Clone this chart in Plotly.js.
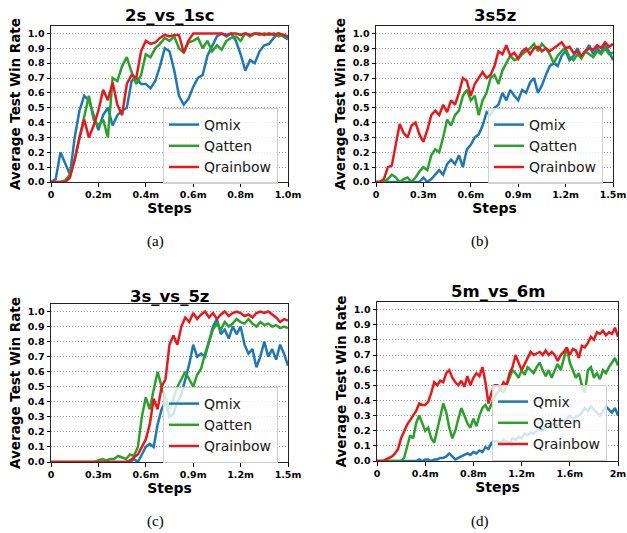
<!DOCTYPE html>
<html>
<head>
<meta charset="utf-8">
<script src="https://cdn.plot.ly/plotly-3.0.1.min.js"></script>
<style>html,body{margin:0;padding:0;background:#fff}#chart{width:627px;height:533px}</style>
</head>
<body>
<div id="chart"></div>
<script>
// ---------------- data ----------------
const panelTitles = ["2s_vs_1sc", "3s5z", "3s_vs_5z", "5m_vs_6m"];
const captions = ["(a)", "(b)", "(c)", "(d)"];
const seriesNames = ["Qmix", "Qatten", "Qrainbow"];
const yTickVals = [0, 0.1, 0.2, 0.3, 0.4, 0.5, 0.6, 0.7, 0.8, 0.9, 1.0];
const yTickText = ["0.0", "0.1", "0.2", "0.3", "0.4", "0.5", "0.6", "0.7", "0.8", "0.9", "1.0"];
const xTickValsA = [0, 0.2, 0.4, 0.6, 0.8, 1.0];
const xTickTextA = ["0", "0.2m", "0.4m", "0.6m", "0.8m", "1.0m"];
const xTickValsB = [0, 0.3, 0.6, 0.9, 1.2, 1.5];
const xTickTextB = ["0", "0.3m", "0.6m", "0.9m", "1.2m", "1.5m"];
const xTickValsC = [0, 0.3, 0.6, 0.9, 1.2, 1.5];
const xTickTextC = ["0", "0.3m", "0.6m", "0.9m", "1.2m", "1.5m"];
const xTickValsD = [0, 0.4, 0.8, 1.2, 1.6, 2.0];
const xTickTextD = ["0", "0.4m", "0.8m", "1.2m", "1.6m", "2m"];

// (a) 2s_vs_1sc, steps every 0.02m
const qmixA = [0,0.02,0.2,0.12,0.05,0.3,0.48,0.58,0.55,0.45,0.35,0.45,0.5,0.38,0.45,0.48,0.5,0.68,0.7,0.66,
  0.66,0.63,0.68,0.78,0.9,0.88,0.75,0.58,0.52,0.56,0.64,0.7,0.72,0.85,0.92,0.98,1.0,0.98,1.0,0.95,
  0.86,0.75,0.82,0.8,0.88,0.92,0.93,0.97,1.0,0.98,0.96];
const qattenA = [0,0,0,0.01,0.05,0.15,0.3,0.45,0.58,0.42,0.38,0.42,0.3,0.7,0.68,0.78,0.84,0.74,0.66,0.72,
  0.86,0.84,0.9,0.93,0.97,0.95,0.98,0.9,0.87,0.94,0.95,0.97,0.9,0.95,0.88,0.92,0.89,0.95,0.97,0.98,
  0.95,1.0,0.98,1.0,0.99,1.0,0.99,1.0,0.98,0.99,0.97];
const qrainbowA = [0,0,0,0,0.03,0.15,0.3,0.42,0.3,0.38,0.48,0.62,0.55,0.67,0.52,0.45,0.66,0.72,0.7,0.88,
  0.95,0.93,0.94,0.97,0.99,0.98,0.99,0.99,0.87,0.95,1.0,1.0,1.0,1.0,1.0,1.0,1.0,0.99,1.0,1.0,
  0.99,1.0,0.99,1.0,1.0,0.99,1.0,0.99,1.0,0.99,0.98];

// (b) 3s5z, steps every 0.025m
const qmixB = [0,0,0,0,0,0,0,0,0,0,0,0,0.03,0,0.02,0.05,0.08,0.05,0.12,0.15,
  0.12,0.18,0.1,0.22,0.25,0.3,0.32,0.38,0.47,0.45,0.5,0.52,0.6,0.55,0.62,0.58,0.55,0.62,0.6,0.67,
  0.7,0.6,0.65,0.72,0.78,0.8,0.78,0.85,0.88,0.82,0.85,0.9,0.84,0.88,0.92,0.86,0.9,0.87,0.92,0.88,0.82];
const qattenB = [0,0,0,0.02,0.05,0.03,0,0.02,0.03,0,0.03,0.07,0.1,0.08,0.18,0.22,0.2,0.3,0.42,0.38,
  0.45,0.48,0.58,0.62,0.55,0.58,0.45,0.55,0.6,0.7,0.72,0.66,0.75,0.8,0.85,0.82,0.83,0.86,0.88,0.9,
  0.93,0.88,0.93,0.9,0.86,0.8,0.85,0.88,0.9,0.84,0.82,0.86,0.83,0.88,0.86,0.84,0.88,0.86,0.9,0.86,0.87];
const qrainbowB = [0,0,0.02,0.1,0.11,0.25,0.39,0.33,0.3,0.38,0.4,0.32,0.27,0.35,0.45,0.48,0.45,0.52,0.47,0.55,
  0.52,0.6,0.7,0.68,0.58,0.66,0.7,0.74,0.7,0.72,0.78,0.88,0.86,0.92,0.85,0.87,0.83,0.88,0.9,0.86,
  0.9,0.91,0.88,0.9,0.88,0.9,0.92,0.94,0.9,0.91,0.87,0.88,0.85,0.88,0.9,0.89,0.92,0.9,0.94,0.91,0.93];

// (c) 3s_vs_5z, steps every 0.025m
const qmixC = [0,0,0,0,0,0,0,0,0,0,0,0,0,0,0,0,0,0,0,0,
  0,0.02,0,0.05,0.1,0.12,0.1,0.25,0.35,0.4,0.3,0.32,0.4,0.45,0.55,0.65,0.78,0.7,0.72,0.7,
  0.8,0.9,0.95,0.85,0.88,0.82,0.9,0.85,0.9,0.78,0.72,0.75,0.63,0.7,0.8,0.7,0.75,0.68,0.78,0.72,0.64];
const qattenC = [0,0,0,0,0,0,0,0,0,0,0,0,0.01,0.02,0.01,0.02,0.02,0.04,0.03,0.02,
  0.05,0.04,0.1,0.3,0.43,0.35,0.48,0.6,0.5,0.42,0.35,0.42,0.5,0.55,0.6,0.55,0.5,0.58,0.62,0.72,
  0.8,0.88,0.92,0.88,0.93,0.9,0.92,0.95,0.93,0.92,0.95,0.92,0.9,0.93,0.91,0.92,0.9,0.91,0.89,0.9,0.89];
const qrainbowC = [0,0,0,0,0,0,0,0,0,0,0,0,0,0,0,0,0,0,0,0,
  0.01,0.03,0.05,0.1,0.15,0.25,0.42,0.35,0.5,0.55,0.78,0.84,0.78,0.9,0.96,0.93,0.99,0.95,0.98,1.0,
  0.96,0.99,0.95,0.98,1.0,0.97,0.99,1.0,0.99,0.97,0.98,0.96,0.99,1.0,0.99,1.0,0.98,0.96,0.93,0.95,0.94];

// (d) 5m_vs_6m, steps every 0.025m
const qmixD = [0,0,0,0,0,0,0,0,0,0,0,0,0,0,0.01,0,0.01,0.01,0,0.01,
  0.01,0.02,0.02,0.03,0.05,0.03,0.01,0.02,0.03,0.04,0.05,0.04,0.06,0.05,0.07,0.06,0.09,0.08,0.12,0.13,0.13,
  0.12,0.14,0.13,0.12,0.15,0.14,0.16,0.15,0.18,0.17,0.19,0.18,0.2,0.21,0.2,0.23,0.22,0.25,0.24,0.23,
  0.27,0.26,0.28,0.3,0.28,0.29,0.3,0.32,0.35,0.33,0.36,0.34,0.32,0.3,0.33,0.36,0.34,0.32,0.35,0.3];
const qattenD = [0,0,0,0,0,0,0,0,0,0.02,0.1,0.17,0.15,0.25,0.3,0.25,0.2,0.22,0.15,0.12,
  0.2,0.3,0.38,0.32,0.22,0.15,0.2,0.28,0.35,0.3,0.25,0.22,0.28,0.23,0.3,0.35,0.37,0.33,0.38,0.42,0.45,
  0.48,0.45,0.5,0.55,0.6,0.58,0.55,0.6,0.57,0.62,0.6,0.58,0.62,0.65,0.6,0.56,0.6,0.55,0.6,0.64,
  0.6,0.68,0.75,0.65,0.6,0.55,0.58,0.5,0.45,0.6,0.62,0.55,0.58,0.54,0.6,0.58,0.62,0.65,0.68,0.63];
const qrainbowD = [0,0,0,0.01,0.02,0.03,0.05,0.08,0.15,0.2,0.24,0.27,0.3,0.33,0.38,0.37,0.37,0.39,0.45,0.52,
  0.5,0.53,0.52,0.58,0.6,0.55,0.52,0.5,0.53,0.49,0.56,0.5,0.55,0.58,0.56,0.62,0.52,0.38,0.45,0.5,0.5,
  0.48,0.52,0.5,0.58,0.62,0.7,0.65,0.6,0.64,0.68,0.72,0.7,0.71,0.72,0.7,0.73,0.7,0.72,0.7,0.66,
  0.7,0.72,0.75,0.7,0.74,0.73,0.68,0.76,0.75,0.78,0.82,0.8,0.85,0.84,0.86,0.83,0.85,0.84,0.88,0.82];

// ---------------- build ----------------
function stepsGrid(n, dx) { return Array.from({length: n}, (_, i) => +(i * dx).toFixed(4)); }
const colors = ["#1f77b4", "#2ca02c", "#e8191c"];
const panels = [
  {series: [qmixA, qattenA, qrainbowA], dx: 0.02, range: [0, 1.0], tv: xTickValsA, tt: xTickTextA},
  {series: [qmixB, qattenB, qrainbowB], dx: 0.025, range: [0, 1.5], tv: xTickValsB, tt: xTickTextB},
  {series: [qmixC, qattenC, qrainbowC], dx: 0.025, range: [0, 1.5], tv: xTickValsC, tt: xTickTextC},
  {series: [qmixD, qattenD, qrainbowD], dx: 0.025, range: [0, 2.0], tv: xTickValsD, tt: xTickTextD}
];
const W = 627, H = 533;
// plot-area boxes in pixels [left, right, top, bottom]
const boxes = [[51, 288, 26, 182], [376, 613, 26, 182], [51, 288, 304, 462], [377, 618, 302, 461]];
const titleY = [15.5, 15.5, 296, 291.5];
const legendPos = [[163, 108], [488, 108], [163, 387], [492, 385]];
const captionPos = [[155, 241], [480, 241], [155, 521], [480, 521]];

const tickFont = {family: "DejaVu Sans", size: 9.5, weight: 700, color: "#000"};
const data = [];
const layout = {
  width: W, height: H, margin: {l: 0, r: 0, t: 0, b: 0},
  paper_bgcolor: "#fff", plot_bgcolor: "#fff", showlegend: true, annotations: []
};
panels.forEach((p, k) => {
  const sfx = k === 0 ? "" : String(k + 1);
  const b = boxes[k];
  p.series.forEach((ys, j) => {
    data.push({
      type: "scatter", mode: "lines", name: seriesNames[j],
      x: stepsGrid(ys.length, p.dx), y: ys,
      xaxis: "x" + sfx, yaxis: "y" + sfx,
      legend: "legend" + sfx, legendgroup: "g" + k + "_" + j,
      line: {color: colors[j], width: 2.5}
    });
  });
  layout["xaxis" + sfx] = {
    domain: [b[0] / W, b[1] / W], range: p.range, anchor: "y" + sfx,
    tickmode: "array", tickvals: p.tv, ticktext: p.tt,
    ticks: "outside", ticklen: 3.5, tickwidth: 1, tickcolor: "#000",
    showgrid: false, zeroline: false, showline: true, mirror: true, linecolor: "#222", linewidth: 1,
    tickfont: tickFont,
    title: {text: "Steps", font: {family: "DejaVu Sans", size: 14, weight: 700, color: "#000"}, standoff: 2}
  };
  layout["yaxis" + sfx] = {
    domain: [1 - b[3] / H, 1 - b[2] / H], range: [0, 1.05], anchor: "x" + sfx,
    tickmode: "array", tickvals: yTickVals, ticktext: yTickText,
    ticks: "outside", ticklen: 3.5, tickwidth: 1, tickcolor: "#000",
    showgrid: true, gridcolor: "#9a9a9a", griddash: "1px,2px", gridwidth: 1,
    zeroline: false, showline: true, mirror: true, linecolor: "#222", linewidth: 1,
    tickfont: tickFont,
    title: {text: "Average Test Win Rate", font: {family: "DejaVu Sans", size: 13.5, weight: 700, color: "#000"}, standoff: 4}
  };
  layout["legend" + sfx] = {
    x: legendPos[k][0] / W, y: 1 - legendPos[k][1] / H, xanchor: "left", yanchor: "top",
    bgcolor: "rgba(255,255,255,0.8)", bordercolor: "#d0d0d0", borderwidth: 1,
    font: {family: "DejaVu Sans", size: 14, color: "#1a1a1a"},
    tracegroupgap: 3, traceorder: "normal"
  };
  layout.annotations.push({
    text: panelTitles[k], xref: "paper", yref: "paper",
    x: (b[0] + b[1]) / 2 / W, y: 1 - titleY[k] / H, xanchor: "center", yanchor: "middle",
    showarrow: false, font: {family: "DejaVu Sans", size: 16.5, weight: 700, color: "#000"}
  });
  layout.annotations.push({
    text: captions[k], xref: "paper", yref: "paper",
    x: captionPos[k][0] / W, y: 1 - captionPos[k][1] / H, xanchor: "center", yanchor: "middle",
    showarrow: false, font: {family: "Liberation Serif", size: 15, color: "#000"}
  });
});
Plotly.newPlot("chart", data, layout, {staticPlot: true, displayModeBar: false});
</script>
</body>
</html>
